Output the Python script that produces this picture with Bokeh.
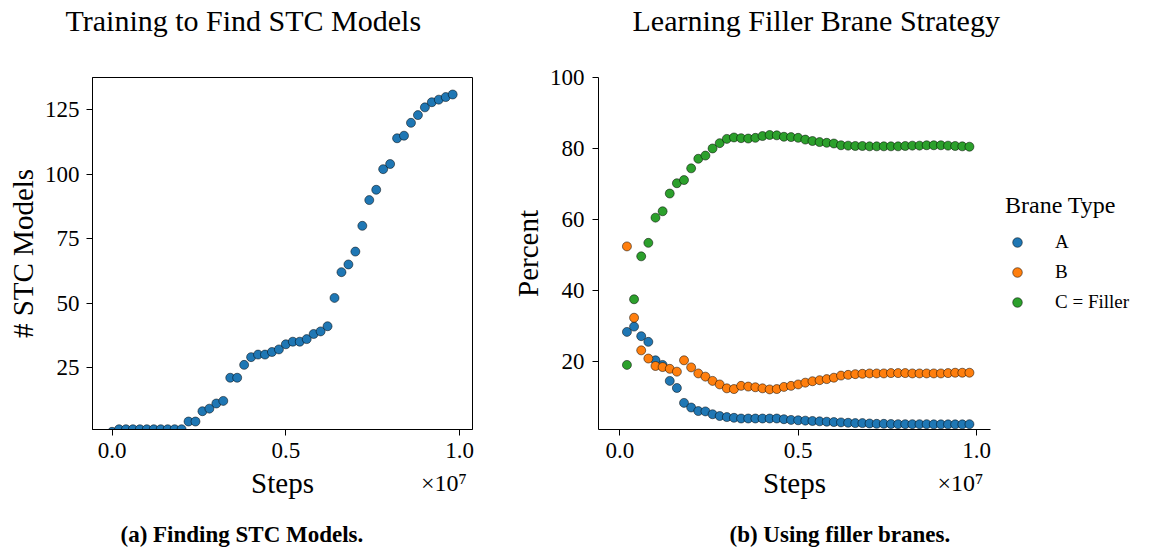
from bokeh.plotting import figure
from bokeh.layouts import row
from bokeh.models import (Range1d, FixedTicker, Title, Legend, LegendItem, LinearAxis,
                          ColumnDataSource)
from bokeh.embed import file_html
from bokeh.resources import INLINE

FONT = "Liberation Serif"

# ---------------- data ----------------
steps_a = [0, 200000, 400000, 600000, 800000, 1000000, 1200000, 1400000, 1600000, 1800000,
           2000000, 2200000, 2400000, 2600000, 2800000, 3000000, 3200000, 3400000, 3600000, 3800000,
           4000000, 4200000, 4400000, 4600000, 4800000, 5000000, 5200000, 5400000, 5600000, 5800000,
           6000000, 6200000, 6400000, 6600000, 6800000, 7000000, 7200000, 7400000, 7600000, 7800000,
           8000000, 8200000, 8400000, 8600000, 8800000, 9000000, 9200000, 9400000, 9600000, 9800000]
stc_models = [0, 1, 1, 1, 1, 1, 1, 1, 1, 1,
              1, 4, 4, 8, 9, 11, 12, 21, 21, 26,
              29, 30, 30, 31, 32, 34, 35, 35, 36, 38,
              39, 41, 52, 62, 65, 70, 80, 90, 94, 102,
              104, 114, 115, 120, 123, 126, 128, 129, 130, 131]

steps_b = [200000, 400000, 600000, 800000, 1000000, 1200000, 1400000, 1600000, 1800000,
           2000000, 2200000, 2400000, 2600000, 2800000, 3000000, 3200000, 3400000, 3600000, 3800000,
           4000000, 4200000, 4400000, 4600000, 4800000, 5000000, 5200000, 5400000, 5600000, 5800000,
           6000000, 6200000, 6400000, 6600000, 6800000, 7000000, 7200000, 7400000, 7600000, 7800000,
           8000000, 8200000, 8400000, 8600000, 8800000, 9000000, 9200000, 9400000, 9600000, 9800000]
pct_a = [28.4, 29.9, 27.2, 25.6, 20.4, 19.1, 14.6, 12.6, 8.4, 7.1,
         6.1, 6.0, 5.2, 4.7, 4.4, 4.2, 4.0, 4.0, 4.0, 4.0,
         4.0, 4.0, 3.8, 3.6, 3.5, 3.4, 3.3, 3.2, 3.1, 3.0,
         2.9, 2.8, 2.7, 2.7, 2.6, 2.5, 2.5, 2.45, 2.4, 2.4,
         2.4, 2.4, 2.4, 2.35, 2.35, 2.35, 2.35, 2.35, 2.4]
pct_b = [52.5, 32.4, 23.2, 20.9, 18.8, 18.5, 18.0, 17.2, 20.4, 18.4,
         16.7, 15.8, 14.6, 13.6, 12.5, 12.3, 13.2, 13.0, 12.8, 12.5,
         12.2, 12.3, 12.9, 13.2, 13.6, 14.1, 14.5, 14.8, 15.1, 15.5,
         16.1, 16.3, 16.5, 16.6, 16.7, 16.7, 16.7, 16.8, 16.8, 16.8,
         16.7, 16.7, 16.7, 16.7, 16.7, 16.8, 16.9, 16.9, 16.9]
pct_c = [19.1, 37.6, 49.7, 53.5, 60.6, 62.4, 67.4, 70.3, 71.2, 74.5,
         77.2, 78.1, 80.1, 81.6, 82.8, 83.2, 83.0, 82.9, 83.1, 83.6,
         83.9, 83.8, 83.4, 83.3, 83.1, 82.6, 82.2, 81.9, 81.7, 81.5,
         81.0, 80.9, 80.8, 80.8, 80.7, 80.7, 80.7, 80.7, 80.7, 80.8,
         80.9, 80.9, 81.0, 81.0, 81.0, 80.9, 80.8, 80.7, 80.6]

brane_labels = ["A", "B", "C = Filler"]
brane_colors = ["#1f77b4", "#ff7f0e", "#2ca02c"]

x_ticks = [0, 5000000, 10000000]
x_tick_labels = {0: "0.0", 5000000: "0.5", 10000000: "1.0"}
ya_ticks = [25, 50, 75, 100, 125]
yb_ticks = [20, 40, 60, 80, 100]
offset_text = "×10⁷"

TICK = "23px"
LAB = "29px"


def style(p, xlab, ylab):
    for ax in (p.xaxis[0], p.yaxis[0]):
        ax.axis_line_color = "black"
        ax.axis_line_width = 1
        ax.major_tick_line_color = "black"
        ax.major_tick_out = 6
        ax.major_tick_in = 0
        ax.minor_tick_line_color = None
        ax.major_label_text_font = FONT
        ax.major_label_text_font_size = TICK
        ax.major_label_text_color = "black"
        ax.axis_label_text_font = FONT
        ax.axis_label_text_font_size = LAB
        ax.axis_label_text_font_style = "normal"
        ax.axis_label_text_color = "black"
    p.xaxis[0].ticker = FixedTicker(ticks=x_ticks)
    p.xaxis[0].major_label_overrides = x_tick_labels
    p.xaxis[0].major_label_standoff = 7
    p.xaxis[0].axis_label = xlab
    p.xaxis[0].axis_label_standoff = 6
    p.yaxis[0].major_label_standoff = 7
    p.yaxis[0].axis_label = ylab
    p.yaxis[0].axis_label_standoff = 3
    p.xgrid.grid_line_color = None
    p.ygrid.grid_line_color = None
    p.background_fill_color = "white"
    p.border_fill_color = "white"
    # offset text of the x axis ("×10⁷"), drawn as a tick label of a bare extra axis
    off = LinearAxis(ticker=FixedTicker(ticks=[9550000]),
                     major_label_overrides={9550000: offset_text},
                     axis_line_color=None, major_tick_line_color=None,
                     minor_tick_line_color=None, major_tick_out=0, major_tick_in=0,
                     major_label_standoff=-32, major_label_text_font=FONT,
                     major_label_text_font_size="24px", major_label_text_color="black")
    p.add_layout(off, "below")


def heading(p, text, offset):
    p.title = Title(text=text, align="left", offset=offset, vertical_align="top", standoff=0,
                    text_font=FONT, text_font_size="30px", text_font_style="normal",
                    text_color="black")
    p.add_layout(Title(text=" ", text_font_size="10px", standoff=26), "above")


def caption(p, text, offset):
    p.add_layout(Title(text=" ", text_font_size="10px", standoff=7), "below")
    p.add_layout(Title(text=text, align="left", offset=offset, vertical_align="top", standoff=0,
                       text_font=FONT, text_font_size="23px", text_font_style="bold",
                       text_color="black"), "below")


# ---------------- left panel ----------------
pa = figure(frame_width=380, frame_height=352, output_backend="svg", toolbar_location=None,
            x_range=Range1d(-563000, 10370000), y_range=Range1d(0.9, 137.6),
            min_border_left=92, min_border_right=33, min_border_top=77, min_border_bottom=121)
style(pa, "Steps", "# STC Models")
pa.yaxis[0].ticker = FixedTicker(ticks=ya_ticks)
pa.outline_line_color = "black"
pa.outline_line_width = 1
pa.outline_line_alpha = 1

src_a = ColumnDataSource(dict(x=steps_a, y=stc_models))
pa.scatter("x", "y", source=src_a, size=9, fill_color=brane_colors[0],
           line_color="black", line_width=0.5)
heading(pa, "Training to Find STC Models", -27)
caption(pa, "(a) Finding STC Models.", 28)

# ---------------- right panel ----------------
pb = figure(frame_width=392, frame_height=352, output_backend="svg", toolbar_location=None,
            x_range=Range1d(-597000, 10390000), y_range=Range1d(0.9, 100.1),
            min_border_left=93, min_border_right=173, min_border_top=77, min_border_bottom=121)
style(pb, "Steps", "Percent")
pb.yaxis[0].ticker = FixedTicker(ticks=yb_ticks)
pb.yaxis[0].major_label_standoff = 8
pb.outline_line_color = None

src_b = ColumnDataSource(dict(x=steps_b, a=pct_a, b=pct_b, c=pct_c))
items = []
for col, lab, colr in zip(["a", "b", "c"], brane_labels, brane_colors):
    r = pb.scatter("x", col, source=src_b, size=9, fill_color=colr,
                   line_color="black", line_width=0.5)
    items.append(LegendItem(label=lab, renderers=[r]))

legend = Legend(items=items, title="Brane Type", location="center_left",
                title_text_font=FONT, title_text_font_size="24px", title_text_font_style="normal",
                title_text_color="black",
                label_text_font=FONT, label_text_font_size="19px", label_text_color="black",
                glyph_width=24, glyph_height=24, label_height=24, label_standoff=26,
                spacing=6, padding=15, margin=15, title_standoff=11,
                border_line_color=None, background_fill_alpha=0)
pb.add_layout(legend, "right")
heading(pb, "Learning Filler Brane Strategy", 34)
caption(pb, "(b) Using filler branes.", 131)

layout = row(pa, pb)
open("out.html", "w").write(file_html(layout, INLINE))
